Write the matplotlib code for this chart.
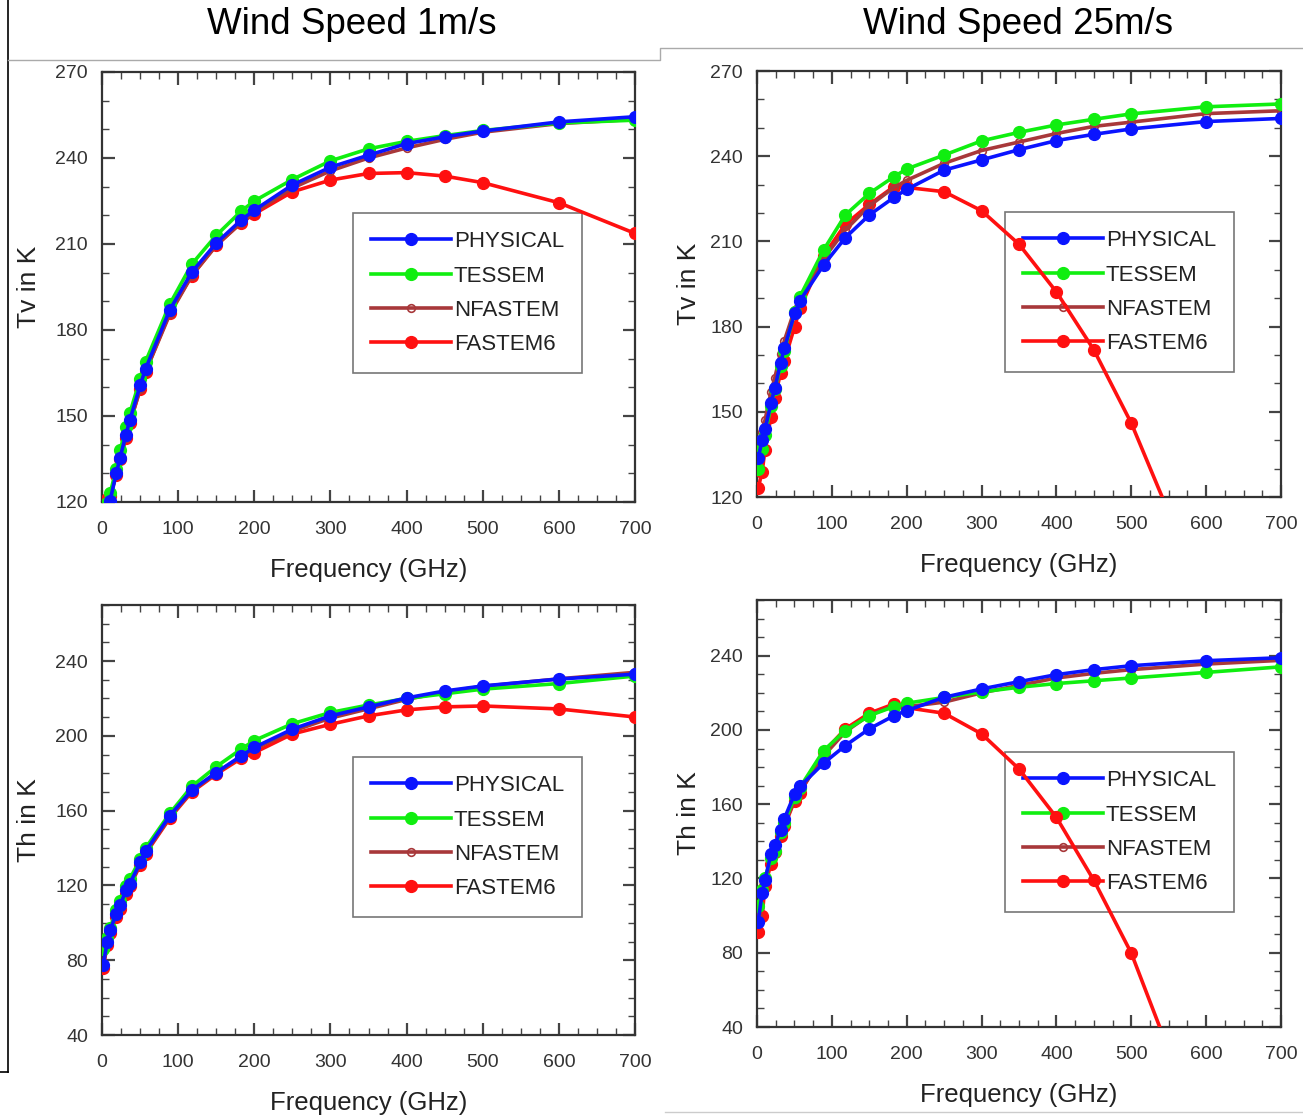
import matplotlib
matplotlib.use("Agg")
import matplotlib.pyplot as plt
from matplotlib.ticker import MultipleLocator
from matplotlib.lines import Line2D

freq = [1.4, 6.9, 10.65, 18.7, 23.8, 31.4, 36.5, 50.3, 57.3, 89, 118, 150, 183, 200,
        250, 300, 350, 400, 450, 500, 600, 700]

# Tv, wind speed 1 m/s
tv1_physical = [113, 117.5, 120.5, 130, 135.5, 143.5, 148.5, 160.8, 166.5, 187, 200.2, 210.3, 218.4, 221.8,
                230.6, 236.8, 241, 245, 247.4, 249.4, 252.6, 254.4]
tv1_tessem = [115, 119.5, 123, 131.5, 138, 146, 151, 163, 169, 189, 203, 213, 221.5, 225,
              232.5, 239, 243.2, 245.8, 247.8, 249.6, 252.2, 253.2]
tv1_nfastem = [117, 120, 122, 129.5, 135, 142.5, 147.5, 159.5, 165.5, 185.5, 199, 209.5, 217.5, 221,
               229.5, 235.5, 240, 243.5, 246.5, 249, 252, 253.5]
tv1_fastem6 = [118, 121, 122, 129.5, 135, 142.5, 147.5, 159.5, 165.5, 186, 199, 209.5, 217.5, 220.5,
               228.2, 232.3, 234.6, 234.9, 233.7, 231.4, 224.4, 213.7]

# Tv, wind speed 25 m/s
tv25_physical = [133.6, 140, 143.8, 153, 158.3, 167.1, 172.4, 184.7, 189.1, 201.7, 211.3, 219.3, 225.5, 228.3,
                 235.1, 238.7, 242.3, 245.5, 247.7, 249.6, 252.2, 253.3]
tv25_tessem = [130, 137, 142, 152, 158, 166, 171.5, 185, 190.5, 207, 219.3, 226.9, 232.8, 235.5,
               240.4, 245.4, 248.4, 251, 253, 254.9, 257.4, 258.4]
tv25_nfastem = [136, 143, 147, 157, 162, 170.5, 175, 186, 190, 204, 214, 222.5, 229, 231.5,
                237.5, 242, 245, 248, 250.5, 252, 255, 256]
tv25_fastem6 = [123, 128.9, 136.7, 148.3, 155, 163.6, 168, 180, 186.4, 205, 216, 223, 229.3, 229,
                227.5, 220.8, 209, 192.2, 171.8, 146, 83, 10]

# Th, wind speed 1 m/s
th1_physical = [77.3, 89.8, 96, 104.9, 109.3, 117.3, 120.9, 132.4, 138.3, 157.3, 171, 180.4, 189.3, 193.8,
                203.6, 210.7, 215.5, 220.3, 224, 226.7, 230.4, 233]
th1_tessem = [86, 92, 97, 107, 111.5, 119.5, 123.5, 134, 140, 158.5, 173, 183.5, 193, 197.5,
              206.5, 212.5, 216.5, 220, 222.5, 225, 228, 232]
th1_nfastem = [76.5, 88.5, 95, 103.5, 108, 116, 120, 131.5, 137.5, 156.5, 170.5, 180, 189, 193,
               202.5, 209.5, 214.5, 219.5, 223.5, 226.5, 230.5, 234]
th1_fastem6 = [76, 88, 94.5, 103, 107.5, 115.5, 119.5, 131, 137, 156, 170, 179.5, 188, 191,
               201, 206.2, 210.7, 213.9, 215.5, 216, 214.4, 210.1]

# Th, wind speed 25 m/s
th25_physical = [96.6, 112, 119, 133.4, 137.8, 146.3, 152.2, 165.6, 169.6, 182.1, 191.6, 200.6, 207.7, 210.4,
                 217.6, 222.1, 226, 229.8, 232.5, 234.6, 237.3, 238.9]
th25_tessem = [105, 114, 120, 131, 135, 145, 150, 164, 169, 188.9, 199.7, 207.7, 212.6, 214.4,
               217.5, 220.5, 223, 225, 226.5, 228, 231, 234]
th25_nfastem = [100, 112, 118, 130, 134.5, 143.5, 149, 162.5, 167, 186, 199, 208, 213, 212.5,
                215, 220, 224, 228, 230.5, 232.5, 235.5, 237.5]
th25_fastem6 = [91.2, 100, 116, 128, 134, 143, 148, 162, 166, 188, 200.6, 209, 214, 212,
                209, 197.9, 179, 152.9, 119, 79.8, -25, -130]

labels = ["PHYSICAL", "TESSEM", "NFASTEM", "FASTEM6"]
titles = ["Wind Speed 1m/s", "Wind Speed 25m/s"]

C_BLUE = "#0a14ff"
C_GREEN = "#10ee10"
C_BROWN = "#a8383a"
C_RED = "#ff1010"
FONT = ["Liberation Sans", "DejaVu Sans"]

W, H = 1303, 1117
fig = plt.figure(figsize=(W / 100, H / 100), dpi=100)


def px_axes(x0, y0, x1, y1):
    return fig.add_axes([x0 / W, 1 - y1 / H, (x1 - x0) / W, (y1 - y0) / H])


panels = [
    (px_axes(102, 72, 635, 502), (tv1_physical, tv1_tessem, tv1_nfastem, tv1_fastem6),
     (120, 270), 30, 10, "Tv in K", (353, 213, 577, 367), 10),
    (px_axes(757, 71, 1281, 497), (tv25_physical, tv25_tessem, tv25_nfastem, tv25_fastem6),
     (120, 270), 30, 10, "Tv in K", (1005, 212, 1223, 362), 7),
    (px_axes(102, 605, 635, 1035), (th1_physical, th1_tessem, th1_nfastem, th1_fastem6),
     (40, 270), 40, 10, "Th in K", (353, 757, 577, 910), 10),
    (px_axes(757, 600, 1281, 1027), (th25_physical, th25_tessem, th25_nfastem, th25_fastem6),
     (40, 270), 40, 10, "Th in K", (1005, 752, 1223, 903), 7),
]

lw = 2.6
ms = 8.5
for ax, (phys, tess, nfas, fast), ylim, major, minor, ylab, lbox, ypad in panels:
    ax.plot(freq, fast, color=C_RED, lw=lw, marker="o", ms=ms, zorder=3)
    ax.plot(freq, nfas, color=C_BROWN, lw=lw, marker="o", ms=5.5, mfc="none", mew=1.2, zorder=4)
    ax.plot(freq, tess, color=C_GREEN, lw=lw, marker="o", ms=ms, zorder=5)
    ax.plot(freq, phys, color=C_BLUE, lw=lw, marker="o", ms=ms, zorder=6)
    ax.set_xlim(0, 700)
    ax.set_ylim(*ylim)
    ax.set_xticks(range(0, 701, 100))
    ax.xaxis.set_minor_locator(MultipleLocator(25))
    ax.yaxis.set_major_locator(MultipleLocator(major))
    ax.yaxis.set_minor_locator(MultipleLocator(minor))
    if ylim[0] == 40:
        ax.set_yticks(range(40, 241, 40))
    ax.tick_params(which="both", direction="in", top=True, right=True, color="#444444")
    ax.tick_params(which="major", length=9, width=1.6)
    ax.tick_params(which="minor", length=5, width=1.0)
    ax.tick_params(axis="both", labelsize=14, labelcolor="#333333")
    ax.tick_params(axis="x", pad=14)
    ax.tick_params(axis="y", pad=10)
    for lab in ax.get_xticklabels() + ax.get_yticklabels():
        lab.set_family(FONT)
    for s in ax.spines.values():
        s.set_color("#333333")
        s.set_linewidth(1.6)
    ax.set_xlabel("Frequency (GHz)", fontsize=18.5, family=FONT, color="#222222", labelpad=14)
    ax.set_ylabel(ylab, fontsize=19, family=FONT, color="#222222", labelpad=ypad)

    # legend
    bx0, by0, bx1, by1 = lbox
    handles = [
        Line2D([], [], color=C_BLUE, lw=lw, marker="o", ms=ms),
        Line2D([], [], color=C_GREEN, lw=lw, marker="o", ms=ms),
        Line2D([], [], color=C_BROWN, lw=lw, marker="o", ms=5.5, mfc="none", mew=1.2),
        Line2D([], [], color=C_RED, lw=lw, marker="o", ms=ms),
    ]
    leg = ax.legend(handles, labels, loc="upper left",
                    bbox_to_anchor=(bx0 / W, 1 - by0 / H),
                    bbox_transform=fig.transFigure,
                    prop={"family": FONT, "size": 16},
                    frameon=True, fancybox=False, borderaxespad=0, handlelength=3.6,
                    handletextpad=0.12, labelspacing=0.6, borderpad=0.82)
    leg.get_frame().set_facecolor("none")
    leg.get_frame().set_edgecolor("#555555")
    leg.get_frame().set_linewidth(1.2)
    leg.set_zorder(2)
    for t in leg.get_texts():
        t.set_color("#222222")

fig.text(352 / W, 1 - 25 / H, titles[0], ha="center", va="center", fontsize=26.5,
         family="Liberation Sans")
fig.text(1018 / W, 1 - 25 / H, titles[1], ha="center", va="center", fontsize=26.5,
         family="Liberation Sans")

# screenshot frame remnants
fig.add_artist(Line2D([8 / W, 8 / W], [1, 1 - 1072 / H], transform=fig.transFigure, color="black", lw=1.2))
fig.add_artist(Line2D([0, 8 / W], [1 - 1072 / H, 1 - 1072 / H], transform=fig.transFigure, color="black", lw=1.2))
fig.add_artist(Line2D([8 / W, 660 / W, 660 / W, 1], [1 - 60 / H, 1 - 60 / H, 1 - 48 / H, 1 - 48 / H],
                      transform=fig.transFigure, color="#aaaaaa", lw=1.0))
fig.add_artist(Line2D([665 / W, 1], [1 - 1112 / H, 1 - 1112 / H], transform=fig.transFigure,
                      color="#cccccc", lw=1.0))

fig.savefig("out.png", dpi=100)
